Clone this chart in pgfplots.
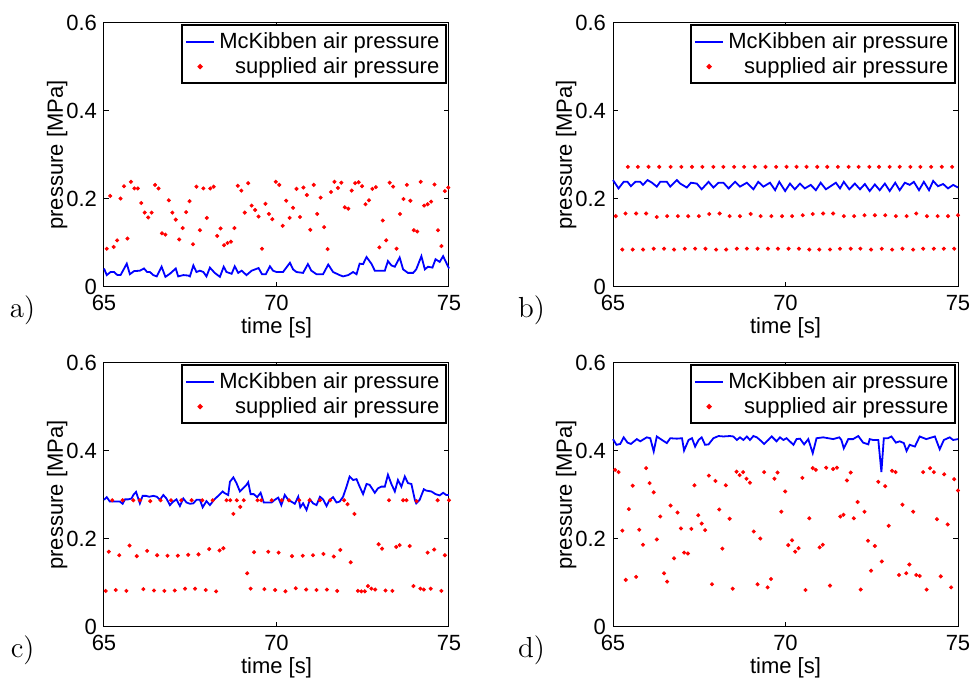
\documentclass[border=0pt]{standalone}
\usepackage{pgfplots}
\pgfplotsset{compat=1.18}
\usepackage{fontspec}
\newfontfamily\helv{Liberation Sans}
\pgfplotsset{
  mystyle/.style={
    width=172.5pt, height=132pt, scale only axis,
    xmin=65, xmax=75, ymin=0, ymax=0.6,
    xtick={65,70,75}, ytick={0,0.2,0.4,0.6},
    tick align=inside, major tick length=2.5pt,
    axis line style={line width=0.5pt},
    every tick/.style={black, line width=0.5pt},
    ticklabel style={font=\helv\fontsize{11}{13}\selectfont},
    xticklabel style={yshift=-0.5pt},
    /pgf/number format/assume math mode=true,
    xlabel={time [s]}, ylabel={pressure [MPa]},
    label style={font=\helv\fontsize{11}{13}\selectfont},
    xlabel style={at={(axis description cs:0.5,-0.155)}, anchor=center},
    ylabel style={at={(axis description cs:-0.136,0.5)}, anchor=center},
    legend style={at={(0.995,0.995)}, anchor=north east, draw=black, line width=0.9pt,
      font=\helv\fontsize{11}{13}\selectfont, inner sep=1.5pt, row sep=-1pt},
    legend cell align=right,
    clip=false,
  },
  blueline/.style={blue, line width=0.9pt, mark=none,
    legend image code/.code={\draw[##1] (0.05cm,0cm) -- (0.55cm,0cm);}},
  reddots/.style={only marks, mark=*, mark size=0.8pt, red, mark options={draw=none, fill=red}},
}
\newcommand{\panel}[1]{\node[font=\fontsize{14.5}{16}\selectfont] at (rel axis cs:-0.236,-0.09) {#1};}
\begin{document}
\begin{tikzpicture}
% ---------------- a ----------------
\begin{axis}[mystyle, at={(52pt,330.5pt)}, anchor=north west]
\addplot[blueline] table {
65.00 0.042
65.08 0.027
65.19 0.034
65.29 0.034
65.39 0.027
65.48 0.027
65.66 0.053
65.75 0.029
65.87 0.036
66.04 0.037
66.16 0.042
66.25 0.034
66.33 0.034
66.43 0.027
66.53 0.024
66.67 0.046
66.78 0.023
66.91 0.030
67.08 0.042
67.15 0.024
67.30 0.027
67.44 0.026
67.49 0.024
67.59 0.049
67.68 0.034
67.78 0.037
67.88 0.034
67.97 0.024
68.07 0.044
68.21 0.032
68.36 0.023
68.47 0.046
68.55 0.034
68.70 0.030
68.79 0.047
68.89 0.032
68.99 0.037
69.13 0.027
69.28 0.037
69.48 0.043
69.58 0.029
69.69 0.029
69.81 0.047
69.90 0.037
70.00 0.034
70.19 0.034
70.39 0.055
70.48 0.040
70.58 0.034
70.77 0.032
70.91 0.052
71.01 0.037
71.16 0.029
71.35 0.029
71.50 0.051
71.64 0.034
71.83 0.027
71.93 0.024
72.08 0.027
72.22 0.034
72.32 0.029
72.41 0.053
72.51 0.052
72.61 0.068
72.75 0.053
72.85 0.037
72.99 0.037
73.14 0.037
73.23 0.059
73.33 0.049
73.43 0.046
73.57 0.067
73.67 0.040
73.81 0.032
73.96 0.032
74.05 0.040
74.20 0.070
74.30 0.040
74.39 0.046
74.52 0.044
74.61 0.063
74.73 0.057
74.83 0.070
75.00 0.042
};
\addlegendentry{McKibben air pressure}
\addplot[reddots] table {
65.08 0.087
65.18 0.207
65.28 0.091
65.38 0.106
65.48 0.201
65.58 0.229
65.68 0.110
65.78 0.239
65.88 0.224
65.98 0.224
66.08 0.191
66.18 0.169
66.28 0.158
66.38 0.169
66.48 0.232
66.58 0.224
66.68 0.122
66.78 0.119
66.88 0.197
66.98 0.169
67.08 0.153
67.18 0.108
67.28 0.134
67.38 0.170
67.48 0.195
67.58 0.097
67.68 0.228
67.78 0.129
67.88 0.224
67.98 0.157
68.08 0.224
68.18 0.228
68.28 0.116
68.38 0.133
68.48 0.095
68.58 0.100
68.68 0.103
68.78 0.134
68.88 0.230
68.98 0.219
69.08 0.169
69.18 0.236
69.28 0.185
69.38 0.175
69.48 0.160
69.58 0.087
69.68 0.189
69.78 0.166
69.88 0.154
69.98 0.239
70.08 0.232
70.18 0.139
70.28 0.196
70.38 0.157
70.48 0.180
70.58 0.223
70.68 0.159
70.78 0.226
70.88 0.209
70.98 0.130
71.08 0.232
71.18 0.166
71.28 0.203
71.38 0.136
71.48 0.086
71.58 0.216
71.68 0.239
71.78 0.225
71.88 0.237
71.98 0.181
72.08 0.178
72.18 0.219
72.28 0.236
72.38 0.238
72.48 0.229
72.58 0.188
72.68 0.197
72.78 0.223
72.88 0.227
72.98 0.090
73.08 0.151
73.18 0.106
73.28 0.237
73.38 0.228
73.48 0.087
73.58 0.166
73.68 0.200
73.78 0.232
73.88 0.196
73.98 0.129
74.08 0.126
74.18 0.239
74.28 0.185
74.38 0.188
74.48 0.194
74.58 0.233
74.68 0.129
74.78 0.093
74.88 0.218
74.98 0.226
};
\addlegendentry{supplied air pressure}
\panel{a)}
\end{axis}
% ---------------- b ----------------
\begin{axis}[mystyle, at={(306.5pt,330.5pt)}, anchor=north west]
\addplot[blueline] table {
65.00 0.243
65.16 0.224
65.31 0.239
65.42 0.239
65.52 0.229
65.65 0.239
65.79 0.239
65.87 0.232
66.00 0.243
66.13 0.237
66.27 0.228
66.37 0.239
66.56 0.239
66.66 0.228
66.85 0.243
66.95 0.235
67.14 0.226
67.26 0.237
67.43 0.235
67.57 0.222
67.77 0.239
67.91 0.226
68.06 0.237
68.20 0.237
68.35 0.224
68.54 0.239
68.68 0.228
68.88 0.237
69.07 0.222
69.21 0.239
69.36 0.228
69.55 0.237
69.70 0.220
69.82 0.239
69.99 0.218
70.13 0.235
70.27 0.222
70.42 0.235
70.56 0.224
70.73 0.232
70.88 0.220
71.02 0.237
71.17 0.222
71.29 0.228
71.46 0.237
71.58 0.224
71.69 0.239
71.85 0.222
72.01 0.235
72.16 0.222
72.30 0.234
72.44 0.218
72.59 0.233
72.73 0.220
72.88 0.235
73.02 0.218
73.18 0.237
73.31 0.220
73.46 0.237
73.60 0.232
73.72 0.239
73.87 0.220
74.01 0.239
74.16 0.220
74.28 0.241
74.42 0.229
74.57 0.234
74.71 0.224
74.86 0.232
75.00 0.226
};
\addlegendentry{McKibben air pressure}
\addplot[reddots] table {
65.43 0.273
65.72 0.273
66.03 0.273
66.34 0.273
66.67 0.273
66.98 0.273
67.29 0.273
67.59 0.273
67.91 0.273
68.20 0.273
68.51 0.273
68.80 0.273
69.11 0.273
69.42 0.273
69.73 0.273
70.03 0.273
70.32 0.273
70.61 0.273
70.92 0.273
71.21 0.273
71.52 0.273
71.83 0.273
72.12 0.273
72.43 0.273
72.71 0.273
73.02 0.273
73.31 0.273
73.62 0.273
73.91 0.273
74.22 0.273
74.53 0.273
74.83 0.273
65.08 0.161
65.36 0.167
65.67 0.167
65.96 0.167
66.27 0.159
66.57 0.161
66.88 0.161
67.18 0.161
67.49 0.161
67.79 0.166
68.09 0.167
68.38 0.161
68.68 0.161
68.99 0.166
69.28 0.161
69.59 0.161
69.90 0.161
70.19 0.161
70.50 0.163
70.79 0.166
71.09 0.167
71.38 0.167
71.69 0.161
71.99 0.161
72.29 0.163
72.59 0.163
72.89 0.163
73.20 0.161
73.51 0.161
73.79 0.167
74.10 0.161
74.41 0.161
74.71 0.161
75.00 0.163
65.27 0.085
65.57 0.085
65.87 0.085
66.18 0.087
66.48 0.087
66.77 0.085
67.08 0.087
67.38 0.087
67.68 0.087
67.99 0.085
68.28 0.085
68.59 0.087
68.88 0.087
69.19 0.087
69.49 0.087
69.78 0.087
70.09 0.087
70.39 0.087
70.69 0.085
70.98 0.085
71.29 0.085
71.58 0.087
71.89 0.087
72.17 0.087
72.48 0.085
72.79 0.087
73.09 0.085
73.39 0.087
73.70 0.085
73.99 0.087
74.30 0.087
74.59 0.087
74.89 0.087
};
\addlegendentry{supplied air pressure}
\panel{b)}
\end{axis}
% ---------------- c ----------------
\begin{axis}[mystyle, at={(52pt,160.5pt)}, anchor=north west]
\addplot[blueline] table {
65.00 0.289
65.08 0.295
65.17 0.285
65.27 0.285
65.37 0.285
65.46 0.285
65.54 0.280
65.61 0.290
65.70 0.290
65.80 0.292
65.85 0.300
65.93 0.307
66.04 0.281
66.12 0.298
66.22 0.298
66.31 0.296
66.43 0.298
66.53 0.296
66.62 0.289
66.72 0.300
66.81 0.292
66.91 0.277
67.01 0.285
67.10 0.290
67.20 0.275
67.30 0.292
67.39 0.283
67.49 0.280
67.59 0.281
67.68 0.289
67.78 0.289
67.86 0.272
67.97 0.286
68.07 0.277
68.19 0.289
68.31 0.298
68.44 0.308
68.50 0.304
68.60 0.300
68.65 0.330
68.75 0.340
68.84 0.327
68.94 0.308
69.03 0.315
69.13 0.323
69.18 0.329
69.25 0.302
69.34 0.302
69.44 0.295
69.54 0.305
69.63 0.283
69.71 0.283
69.86 0.283
69.95 0.289
70.05 0.294
70.14 0.277
70.24 0.300
70.34 0.289
70.43 0.285
70.53 0.280
70.63 0.296
70.69 0.272
70.77 0.281
70.87 0.266
70.97 0.290
71.06 0.281
71.16 0.277
71.26 0.296
71.35 0.290
71.45 0.275
71.54 0.289
71.64 0.295
71.74 0.283
71.83 0.285
71.93 0.296
72.03 0.319
72.12 0.342
72.22 0.334
72.32 0.336
72.41 0.319
72.51 0.302
72.61 0.325
72.70 0.323
72.85 0.305
72.94 0.315
73.04 0.319
73.14 0.319
73.23 0.346
73.33 0.325
73.43 0.308
73.52 0.334
73.62 0.319
73.72 0.342
73.81 0.327
73.91 0.325
74.01 0.289
74.05 0.281
74.15 0.289
74.27 0.313
74.34 0.310
74.49 0.308
74.61 0.302
74.73 0.299
74.83 0.305
74.92 0.300
75.00 0.300
};
\addlegendentry{McKibben air pressure}
\addplot[reddots] table {
65.05 0.082
65.14 0.171
65.24 0.288
65.34 0.084
65.44 0.163
65.54 0.288
65.65 0.082
65.74 0.185
65.85 0.288
65.95 0.161
66.04 0.288
66.14 0.086
66.25 0.173
66.34 0.286
66.45 0.083
66.54 0.163
66.64 0.288
66.75 0.082
66.84 0.162
66.94 0.288
67.05 0.083
67.14 0.162
67.24 0.288
67.35 0.087
67.44 0.164
67.54 0.288
67.64 0.087
67.74 0.165
67.85 0.288
67.95 0.084
68.05 0.177
68.15 0.288
68.25 0.081
68.35 0.174
68.46 0.179
68.55 0.288
68.66 0.288
68.75 0.257
68.85 0.288
68.95 0.273
69.05 0.288
69.15 0.122
69.25 0.087
69.35 0.170
69.45 0.288
69.56 0.288
69.65 0.086
69.76 0.171
69.86 0.288
69.96 0.084
70.06 0.169
70.15 0.288
70.26 0.081
70.36 0.288
70.45 0.161
70.56 0.088
70.66 0.288
70.76 0.162
70.86 0.085
70.96 0.288
71.06 0.163
71.16 0.084
71.26 0.288
71.36 0.166
71.46 0.085
71.56 0.288
71.66 0.160
71.76 0.082
71.85 0.175
71.96 0.288
72.06 0.279
72.15 0.147
72.26 0.257
72.36 0.082
72.46 0.081
72.56 0.081
72.65 0.093
72.75 0.087
72.86 0.085
72.96 0.188
73.06 0.178
73.16 0.083
73.26 0.288
73.36 0.082
73.47 0.182
73.57 0.186
73.67 0.288
73.77 0.288
73.86 0.184
73.97 0.093
74.06 0.286
74.17 0.087
74.27 0.085
74.38 0.169
74.47 0.087
74.57 0.176
74.67 0.288
74.78 0.082
74.88 0.163
75.00 0.288
};
\addlegendentry{supplied air pressure}
\panel{c)}
\end{axis}
% ---------------- d ----------------
\begin{axis}[mystyle, at={(306.5pt,160.5pt)}, anchor=north west]
\addplot[blueline] table {
65.00 0.427
65.10 0.414
65.21 0.416
65.31 0.431
65.42 0.419
65.52 0.416
65.69 0.427
65.79 0.422
65.98 0.431
66.08 0.429
66.18 0.399
66.27 0.433
66.42 0.425
66.56 0.418
66.66 0.429
66.85 0.428
67.00 0.429
67.06 0.401
67.19 0.425
67.29 0.429
67.38 0.410
67.48 0.425
67.57 0.431
67.67 0.414
67.77 0.415
67.91 0.429
68.06 0.434
68.20 0.433
68.39 0.434
68.49 0.433
68.59 0.425
68.68 0.431
68.78 0.425
68.88 0.433
68.97 0.425
69.07 0.434
69.17 0.431
69.26 0.425
69.38 0.416
69.50 0.425
69.60 0.433
69.74 0.422
69.84 0.431
69.94 0.425
70.03 0.429
70.23 0.414
70.32 0.427
70.42 0.428
70.54 0.415
70.66 0.427
70.79 0.395
70.90 0.429
71.09 0.431
71.24 0.429
71.38 0.427
71.56 0.431
71.62 0.425
71.69 0.406
71.82 0.427
71.96 0.427
72.11 0.434
72.25 0.419
72.40 0.415
72.44 0.427
72.54 0.425
72.69 0.425
72.78 0.352
72.85 0.429
72.97 0.429
73.07 0.433
73.20 0.419
73.31 0.422
73.43 0.418
73.51 0.400
73.60 0.414
73.75 0.410
73.89 0.433
74.08 0.427
74.33 0.433
74.47 0.404
74.59 0.425
74.76 0.431
74.86 0.425
75.00 0.427
};
\addlegendentry{McKibben air pressure}
\addplot[reddots] table {
65.06 0.357
65.16 0.352
65.27 0.219
65.37 0.107
65.46 0.268
65.57 0.321
65.67 0.114
65.76 0.221
65.87 0.187
65.96 0.361
66.06 0.327
66.18 0.306
66.27 0.199
66.37 0.251
66.48 0.122
66.57 0.103
66.67 0.276
66.77 0.156
66.87 0.260
66.97 0.224
67.06 0.169
67.17 0.167
67.27 0.223
67.36 0.322
67.47 0.254
67.57 0.235
67.67 0.220
67.78 0.344
67.87 0.097
67.97 0.332
68.08 0.267
68.17 0.178
68.27 0.322
68.38 0.246
68.47 0.087
68.58 0.353
68.67 0.345
68.77 0.352
68.87 0.337
68.97 0.328
69.08 0.217
69.19 0.097
69.27 0.201
69.38 0.352
69.48 0.090
69.58 0.109
69.68 0.337
69.77 0.351
69.88 0.262
69.99 0.308
70.08 0.186
70.19 0.197
70.28 0.171
70.38 0.179
70.49 0.339
70.58 0.084
70.69 0.247
70.79 0.361
70.88 0.357
70.99 0.181
71.08 0.187
71.18 0.362
71.29 0.094
71.38 0.359
71.49 0.362
71.59 0.251
71.68 0.255
71.78 0.333
71.89 0.351
71.98 0.247
72.09 0.284
72.18 0.085
72.29 0.262
72.39 0.196
72.48 0.128
72.59 0.184
72.69 0.330
72.79 0.149
72.89 0.320
72.99 0.230
73.09 0.355
73.19 0.352
73.29 0.118
73.39 0.278
73.50 0.122
73.59 0.142
73.70 0.262
73.79 0.118
73.89 0.116
73.99 0.352
74.09 0.085
74.19 0.361
74.30 0.352
74.39 0.245
74.50 0.115
74.60 0.347
74.70 0.233
74.80 0.090
74.89 0.336
75.00 0.310
};
\addlegendentry{supplied air pressure}
\panel{d)}
\end{axis}
\pgfresetboundingbox
\useasboundingbox (0,0) rectangle (485.5pt,342pt);
\end{tikzpicture}
\end{document}
